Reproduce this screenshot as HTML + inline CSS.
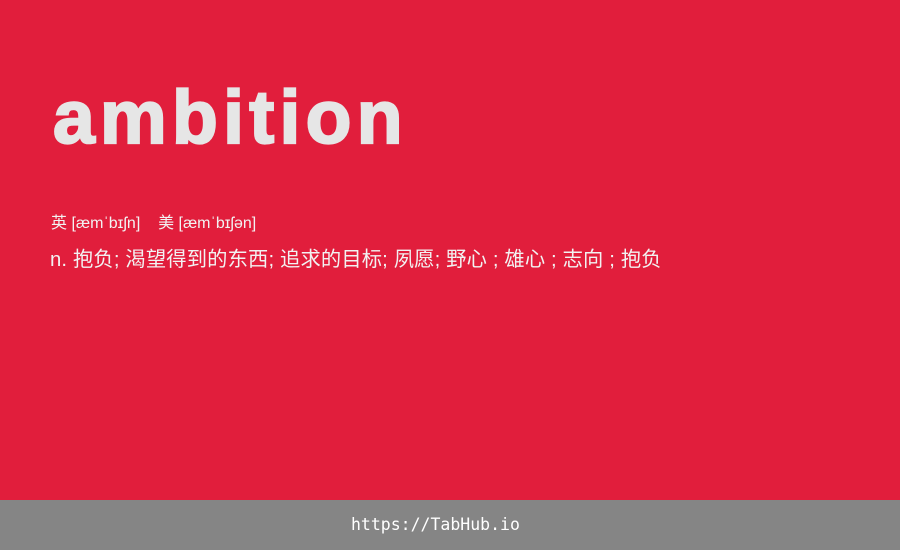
<!DOCTYPE html>
<html>
<head>
<meta charset="utf-8">
<style>
html,body{margin:0;padding:0;}
body{width:900px;height:550px;position:relative;overflow:hidden;background:#e11e3c;font-family:"Liberation Sans","Noto Sans CJK SC",sans-serif;}
#word{position:absolute;left:53px;top:67px;font-size:75px;font-weight:bold;color:#e6e6e6;line-height:100px;margin:0;letter-spacing:5.3px;-webkit-text-stroke:2.2px #e6e6e6;white-space:nowrap;}
#phon{position:absolute;left:51px;top:213px;font-size:16px;color:#f2f2f2;line-height:22px;white-space:nowrap;}
#def{position:absolute;left:50px;top:246px;font-size:20.3px;color:#f2f2f2;line-height:28px;white-space:nowrap;letter-spacing:0.15px;}
#footer{position:absolute;left:0;top:500px;width:900px;height:50px;background:#858585;}
#link{position:absolute;left:351px;top:14px;font-family:"DejaVu Sans Mono","Liberation Mono",monospace;font-size:16.5px;color:#ffffff;line-height:22px;white-space:nowrap;}
</style>
</head>
<body>
<h1 id="word">ambition</h1>
<div id="phon"><span>英 [æmˈbɪʃn]</span>&nbsp;&nbsp;&nbsp;&nbsp;<span>美 [æmˈbɪʃən]</span></div>
<div id="def">n. 抱负; 渴望得到的东西; 追求的目标; 夙愿; 野心 ; 雄心 ; 志向 ; 抱负</div>
<div id="footer">
<div id="link">https://TabHub.io</div>
</div>
</body>
</html>
